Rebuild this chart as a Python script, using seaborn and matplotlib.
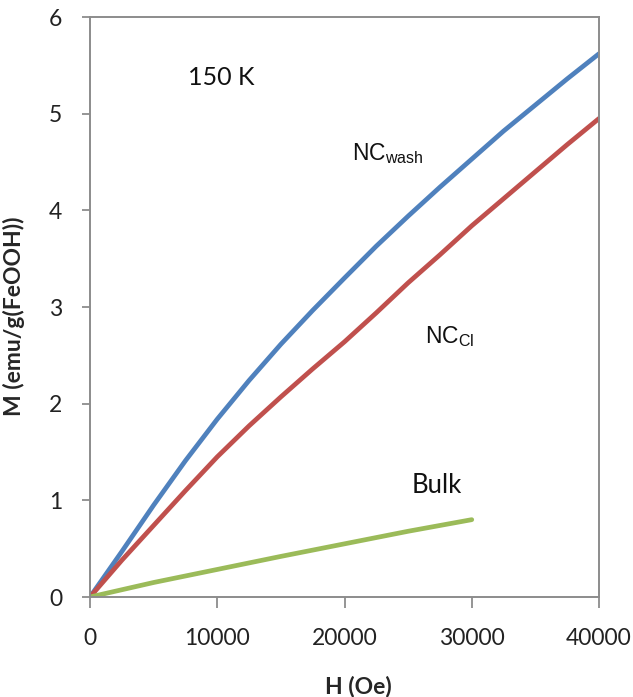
import matplotlib
matplotlib.use("Agg")
import matplotlib.pyplot as plt
import pandas as pd
import seaborn as sns

# Magnetization curves at 150 K
field_nc = [0, 2500, 5000, 7500, 10000, 12500, 15000, 17500, 20000,
            22500, 25000, 27500, 30000, 32500, 35000, 37500, 40000]
m_wash = [0, 0.47, 0.95, 1.41, 1.84, 2.24, 2.615, 2.965, 3.30,
          3.63, 3.94, 4.24, 4.53, 4.82, 5.09, 5.36, 5.62]
m_cl = [0, 0.38, 0.74, 1.10, 1.45, 1.77, 2.07, 2.36, 2.64,
        2.94, 3.25, 3.54, 3.84, 4.12, 4.40, 4.68, 4.95]
field_bulk = [0, 5000, 10000, 15000, 20000, 25000, 30000]
m_bulk = [0, 0.15, 0.285, 0.42, 0.55, 0.68, 0.80]

samples = ["NC_wash", "NC_Cl", "Bulk"]
colors = ["#4F81BD", "#C0504D", "#9BBB59"]

x_ticks = [0, 10000, 20000, 30000, 40000]
y_ticks = [0, 1, 2, 3, 4, 5, 6]

df = pd.concat([
    pd.DataFrame({"H": field_nc, "M": m_wash, "sample": samples[0]}),
    pd.DataFrame({"H": field_nc, "M": m_cl, "sample": samples[1]}),
    pd.DataFrame({"H": field_bulk, "M": m_bulk, "sample": samples[2]}),
], ignore_index=True)

sns.set_style("white")
plt.rcParams["font.family"] = ["Lato", "DejaVu Sans"]
plt.rcParams["mathtext.fontset"] = "custom"
plt.rcParams["mathtext.rm"] = "Liberation Sans"
plt.rcParams["mathtext.it"] = "Liberation Sans"

fig = plt.figure(figsize=(6.33, 6.97), dpi=100)
ax = fig.add_axes([90 / 633, 100 / 697, 509 / 633, 580 / 697])

sns.lineplot(data=df, x="H", y="M", hue="sample", hue_order=samples,
             palette=dict(zip(samples, colors)), linewidth=3.4,
             estimator=None, sort=False, legend=False, ax=ax)
for ln in ax.lines:
    ln.set_solid_joinstyle("round")
    ln.set_solid_capstyle("round")

ax.set_xlim(0, 40000)
ax.set_ylim(0, 6)
ax.set_xticks(x_ticks)
ax.set_yticks(y_ticks)
ax.set_xticklabels([str(t) for t in x_ticks])
ax.set_yticklabels([str(t) for t in y_ticks])

spine_color = "#8c8c8c"
for s in ax.spines.values():
    s.set_color(spine_color)
    s.set_linewidth(1.4)

ax.tick_params(axis="x", direction="out", length=8, width=1.3, color=spine_color,
               pad=14, labelsize=16.5, labelcolor="#222222", bottom=True)
ax.tick_params(axis="y", direction="out", length=6, width=1.3, color=spine_color,
               pad=14, labelsize=16.5, labelcolor="#222222", left=True)

ax.set_xlabel("H (Oe)", fontsize=16.5, fontweight="bold")
ax.set_ylabel("M (emu/g(FeOOH))", fontsize=16.5, fontweight="bold")
ax.xaxis.set_label_coords(0.527, -0.135)
ax.yaxis.set_label_coords(-0.128, 0.484)

ax.text(7700, 5.30, "150 K", fontsize=18, ha="left", va="baseline", color="#111111")
ax.text(20600, 4.52, r"$\mathrm{NC}_{\mathrm{wash}}$", fontsize=16.5, ha="left",
        va="baseline", color="#111111")
ax.text(26300, 2.63, r"$\mathrm{NC}_{\mathrm{Cl}}$", fontsize=16.5, ha="left",
        va="baseline", color="#111111")
ax.text(25300, 1.08, "Bulk", fontsize=18.5, ha="left", va="baseline", color="#111111")

fig.savefig("out.png", dpi=100, facecolor="white")
